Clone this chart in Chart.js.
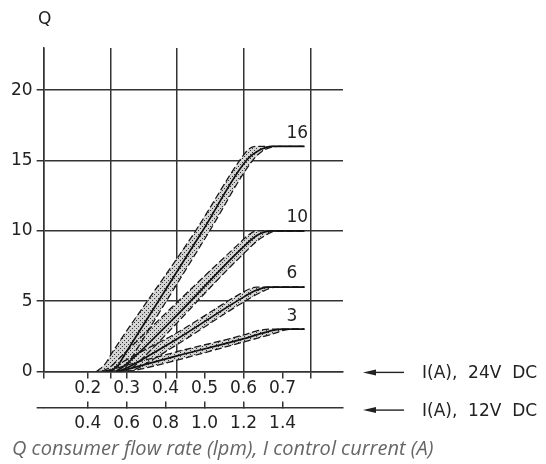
<!DOCTYPE html>
<html>
<head>
<meta charset="utf-8">
<script src="https://cdn.jsdelivr.net/npm/chart.js@4.4.1/dist/chart.umd.min.js"></script>
<style>
  body { margin: 0; background: #fff; }
  #wrap { width: 546px; height: 464px; }
</style>
</head>
<body>
<div id="wrap"><canvas id="flowChart" width="546" height="464"></canvas></div>
<script>
  // data: [I (A, 24V), Q (lpm)]
  const flowLabels = ['16', '10', '6', '3'];

  const c16Mid = [[0.259,0],[0.277,0.4],[0.295,1.2],[0.495,10],[0.607,15],[0.645,15.8],[0.674,16],[0.756,16]];
  const c16Hi  = [[0.223,0],[0.244,0.5],[0.262,1.3],[0.477,10],[0.590,15],[0.613,15.8],[0.633,16],[0.756,16]];
  const c16Lo  = [[0.223,0],[0.282,0],[0.303,0.5],[0.318,1.2],[0.513,10],[0.623,15],[0.650,15.7],[0.687,16],[0.756,16]];

  const c10Mid = [[0.272,0],[0.292,0.35],[0.313,0.85],[0.429,4.0],[0.601,8.9],[0.636,9.7],[0.671,10],[0.756,10]];
  const c10Hi  = [[0.238,0],[0.262,0.4],[0.282,0.95],[0.585,9.0],[0.615,9.75],[0.636,10],[0.756,10]];
  const c10Lo  = [[0.238,0],[0.297,0],[0.318,0.35],[0.336,0.8],[0.601,8.4],[0.646,9.5],[0.687,10],[0.756,10]];

  const c6Mid = [[0.277,0],[0.297,0.2],[0.321,0.55],[0.429,2.3],[0.601,5.3],[0.631,5.75],[0.662,6],[0.756,6]];
  const c6Hi  = [[0.244,0],[0.267,0.25],[0.292,0.7],[0.429,2.75],[0.601,5.67],[0.618,5.9],[0.633,6],[0.756,6]];
  const c6Lo  = [[0.244,0],[0.303,0],[0.326,0.2],[0.349,0.55],[0.429,1.9],[0.601,4.95],[0.646,5.65],[0.684,6],[0.756,6]];

  const c3Mid = [[0.282,0],[0.308,0.2],[0.429,1.1],[0.601,2.33],[0.646,2.7],[0.697,3],[0.756,3]];
  const c3Hi  = [[0.251,0],[0.277,0.25],[0.429,1.4],[0.601,2.6],[0.630,2.85],[0.665,3],[0.756,3]];
  const c3Lo  = [[0.251,0],[0.303,0],[0.333,0.15],[0.429,0.8],[0.601,2.1],[0.667,2.6],[0.722,3],[0.756,3]];

  // axes
  const xMin = 0.087, xMax = 0.855;              // 24V current range of the frame
  const gridI   = [0.087, 0.258, 0.429, 0.6, 0.771];
  const tickI24 = [0.2, 0.3, 0.4, 0.5, 0.6, 0.7];
  const tickI12 = [0.4, 0.6, 0.8, 1.0, 1.2, 1.4];
  const tickQ   = [0, 5, 10, 15, 20];
  const qMax = 23;

  const axisName  = 'Q';
  const axisNotes = ['I(A),  24V  DC', 'I(A),  12V  DC'];
  const caption   = 'Q consumer flow rate (lpm), I control current (A)';

  // dotted band fill
  const pc = document.createElement('canvas');
  pc.width = 4; pc.height = 4;
  const pctx = pc.getContext('2d');
  pctx.fillStyle = '#d4d4d4';
  pctx.fillRect(0, 0, 4, 4);
  pctx.fillStyle = '#333';
  pctx.fillRect(0, 0, 1, 1);
  pctx.fillRect(2, 2, 1, 1);
  const bandFill = pctx.createPattern(pc, 'repeat');

  const toXY = arr => arr.map(([x, y]) => ({ x, y }));
  const curves = [[c16Mid, c16Hi, c16Lo], [c10Mid, c10Hi, c10Lo], [c6Mid, c6Hi, c6Lo], [c3Mid, c3Hi, c3Lo]];

  const datasets = [];
  curves.forEach(([mid, hi, lo]) => {
    datasets.push({ data: toXY(mid), borderColor: '#111', borderWidth: 1.7, fill: false });
    datasets.push({ data: toXY(hi), borderColor: '#1a1a1a', borderWidth: 1.3, borderDash: [7, 3], fill: false });
    datasets.push({ data: toXY(lo), borderColor: '#1a1a1a', borderWidth: 1.3, borderDash: [7, 3],
                    fill: '-1', backgroundColor: bandFill });
  });

  const tickFont = { family: 'DejaVu Sans', size: 17 };
  const ink = '#333';

  // texts and arrows around the frame
  const notes = {
    id: 'notes',
    afterDraw(chart) {
      const { ctx, chartArea: a, scales } = chart;
      ctx.save();
      ctx.fillStyle = '#222';
      ctx.strokeStyle = '#222';
      ctx.font = '17px "DejaVu Sans"';
      ctx.textAlign = 'center';
      ctx.textBaseline = 'middle';
      ctx.fillText(axisName, a.left + 1, a.top - 28);

      ctx.textAlign = 'left';
      flowLabels.forEach((t, i) => {
        const pts = chart.getDatasetMeta(i * 3).data;
        const p = pts[pts.length - 1];
        ctx.fillText(t, p.x - 18, p.y - 13);
      });

      // extend the 12V line to the left like the tick stubs (same pixel alignment as the border)
      const y12 = Math.round(scales.x12.top - 0.75) + 0.75;
      ctx.strokeStyle = ink;
      ctx.lineWidth = 1.5;
      ctx.beginPath(); ctx.moveTo(a.left - 7, y12); ctx.lineTo(a.left, y12); ctx.stroke();

      ctx.strokeStyle = '#222';
      const rows = [[scales.y.getPixelForValue(0) + 1, axisNotes[0]], [scales.x12.top + 2.5, axisNotes[1]]];
      rows.forEach(([y, t]) => {
        const x0 = a.right + 20;
        ctx.lineWidth = 1.4;
        ctx.beginPath(); ctx.moveTo(x0 + 10, y); ctx.lineTo(x0 + 41, y); ctx.stroke();
        ctx.beginPath(); ctx.moveTo(x0, y); ctx.lineTo(x0 + 13, y - 3); ctx.lineTo(x0 + 13, y + 3);
        ctx.closePath(); ctx.fill();
        ctx.fillText(t, x0 + 59, y + 1);
      });

      ctx.fillStyle = '#666';
      ctx.font = 'italic 20px "Open Sans"';
      ctx.textBaseline = 'alphabetic';
      ctx.fillText(caption, 12, 455);
      ctx.restore();
    }
  };

  new Chart(document.getElementById('flowChart'), {
    type: 'line',
    data: { datasets },
    plugins: [notes],
    options: {
      responsive: false,
      animation: false,
      layout: { padding: { left: 7, right: 203, top: 48, bottom: 18 } },
      elements: { point: { radius: 0 }, line: { cubicInterpolationMode: 'monotone' } },
      plugins: {
        legend: { display: false },
        tooltip: { enabled: false },
        filler: { drawTime: 'beforeDatasetsDraw' }
      },
      scales: {
        x: {
          type: 'linear', position: 'bottom', min: xMin, max: xMax,
          afterBuildTicks: s => { s.ticks = [...new Set([...gridI, ...tickI24])].sort((a, b) => a - b).map(v => ({ value: v })); },
          grid: {
            color: c => (c.tick && gridI.includes(c.tick.value)) ? ink : 'rgba(0,0,0,0)',
            tickColor: ink, lineWidth: 1.5, tickLength: 7
          },
          border: { display: true, color: ink, width: 1.5 },
          title: { display: true, text: ' ', padding: 0, font: { size: 8, lineHeight: 1 } },
          ticks: {
            autoSkip: false, maxRotation: 0, padding: 0.4, color: '#222', font: tickFont,
            callback: v => tickI24.includes(v) ? v.toFixed(1) : ''
          }
        },
        x12: {
          type: 'linear', position: 'bottom', min: xMin * 2, max: xMax * 2,
          afterBuildTicks: s => { s.ticks = tickI12.map(v => ({ value: v })); },
          grid: { drawOnChartArea: false, color: ink, lineWidth: 1.5, tickLength: -6 },
          border: { display: true, color: ink, width: 1.5 },
          ticks: { autoSkip: false, maxRotation: 0, padding: 12, color: '#222', font: tickFont,
                   callback: v => v.toFixed(1) }
        },
        y: {
          type: 'linear', min: 0, max: qMax,
          afterBuildTicks: s => { s.ticks = tickQ.map(v => ({ value: v })); },
          grid: { color: ink, lineWidth: 1.5, tickLength: 7 },
          border: { display: true, color: ink, width: 1.5 },
          ticks: { padding: 4, color: '#222', font: tickFont, callback: v => String(v) }
        }
      }
    }
  });
</script>
</body>
</html>
